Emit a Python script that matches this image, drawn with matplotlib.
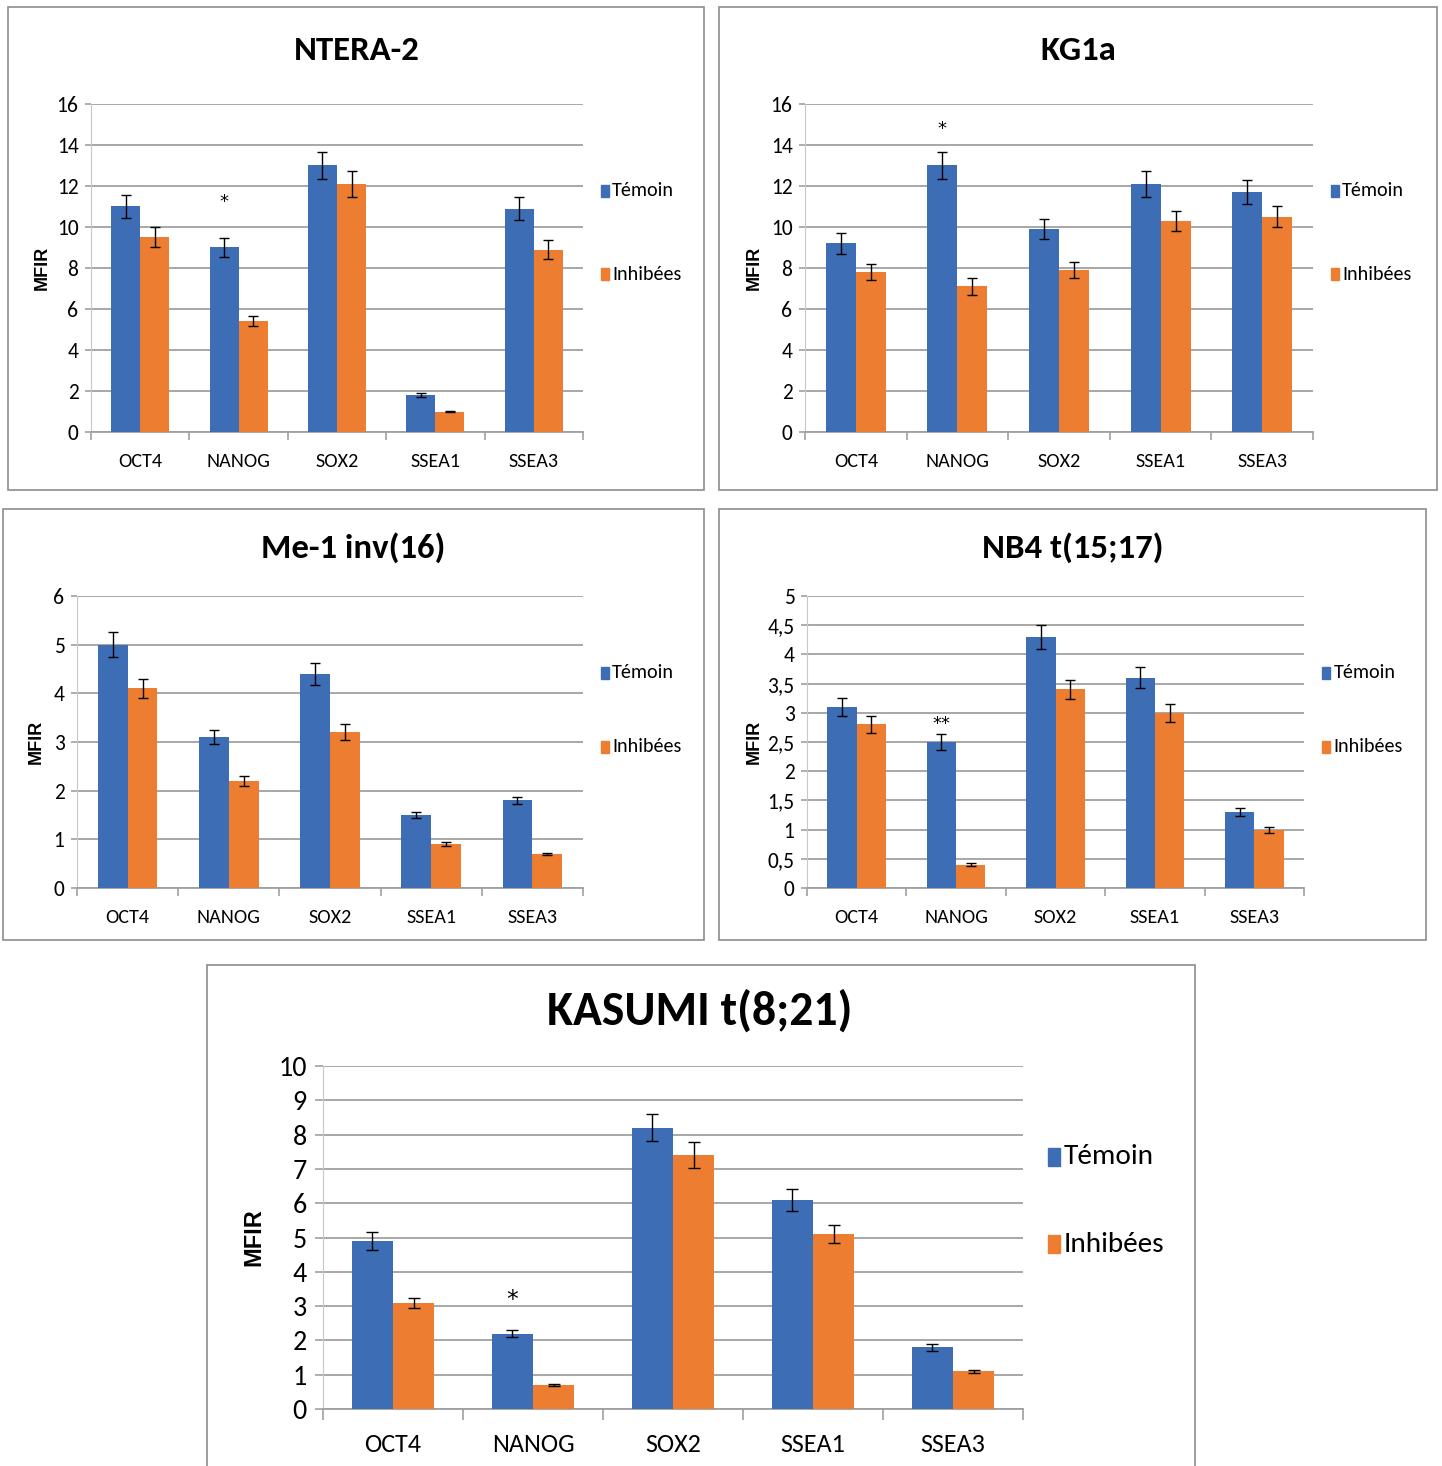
import matplotlib
matplotlib.use("Agg")
import matplotlib.pyplot as plt
from matplotlib.patches import Rectangle
import numpy as np

plt.rcParams['font.family'] = ['Carlito', 'Liberation Sans Narrow', 'DejaVu Sans']

genes = ["OCT4", "NANOG", "SOX2", "SSEA1", "SSEA3"]

# NTERA-2
ntera_temoin = [11.0, 9.0, 13.0, 1.8, 10.9]
ntera_temoin_err = [0.55, 0.45, 0.65, 0.1, 0.55]
ntera_inhib = [9.5, 5.4, 12.1, 1.0, 8.9]
ntera_inhib_err = [0.5, 0.25, 0.65, 0.03, 0.45]

# KG1a
kg1a_temoin = [9.2, 13.0, 9.9, 12.1, 11.7]
kg1a_temoin_err = [0.5, 0.65, 0.5, 0.65, 0.6]
kg1a_inhib = [7.8, 7.1, 7.9, 10.3, 10.5]
kg1a_inhib_err = [0.4, 0.4, 0.4, 0.5, 0.5]

# Me-1 inv(16)
me1_temoin = [5.0, 3.1, 4.4, 1.5, 1.8]
me1_temoin_err = [0.25, 0.15, 0.23, 0.07, 0.08]
me1_inhib = [4.1, 2.2, 3.2, 0.9, 0.7]
me1_inhib_err = [0.2, 0.11, 0.16, 0.04, 0.02]

# NB4 t(15;17)
nb4_temoin = [3.1, 2.5, 4.3, 3.6, 1.3]
nb4_temoin_err = [0.16, 0.13, 0.2, 0.18, 0.07]
nb4_inhib = [2.8, 0.4, 3.4, 3.0, 1.0]
nb4_inhib_err = [0.14, 0.02, 0.17, 0.15, 0.05]

# KASUMI t(8;21)
kas_temoin = [4.9, 2.2, 8.2, 6.1, 1.8]
kas_temoin_err = [0.25, 0.11, 0.4, 0.32, 0.1]
kas_inhib = [3.1, 0.7, 7.4, 5.1, 1.1]
kas_inhib_err = [0.15, 0.04, 0.38, 0.26, 0.05]

BLUE = "#3D6DB5"
ORANGE = "#ED7D31"
GRID = "#A0A0A0"

W, H = 1442, 1466
fig = plt.figure(figsize=(W / 100, H / 100), dpi=100)


def fx(x):
    return x / W


def fy(y):
    return 1 - y / H


def panel(box, axpx, title, title_xy, temoin, terr, inhib, ierr, ymax, ystep,
          ylab_x, leg, star=None, comma=False, s=1.0, ls=1.0, ts=1.0):
    x0, y0, x1, y1 = box
    fig.patches.append(Rectangle((fx(x0), fy(y1)), fx(x1 - x0), (y1 - y0) / H,
                                 transform=fig.transFigure, fill=False,
                                 edgecolor="#8C8C8C", lw=1.2))
    l, t, r, b = axpx
    ax = fig.add_axes([fx(l), fy(b), fx(r - l), (b - t) / H])
    x = np.arange(len(genes))
    w = 0.295
    ax.bar(x - w / 2, temoin, w, color=BLUE, zorder=3)
    ax.bar(x + w / 2, inhib, w, color=ORANGE, zorder=3)
    ax.errorbar(x - w / 2, temoin, yerr=terr, fmt="none", ecolor="black",
                elinewidth=1, capsize=3.5 * s, capthick=1, zorder=4)
    ax.errorbar(x + w / 2, inhib, yerr=ierr, fmt="none", ecolor="black",
                elinewidth=1, capsize=3.5 * s, capthick=1, zorder=4)
    ax.set_xlim(-0.5, len(genes) - 0.5)
    ax.set_ylim(0, ymax)
    yt = np.arange(0, ymax + ystep / 2, ystep)
    ax.set_yticks(yt)
    if comma:
        ax.set_yticklabels([("%g" % v).replace(".", ",") for v in yt])
    else:
        ax.set_yticklabels(["%g" % v for v in yt])
    ax.yaxis.grid(True, color=GRID, lw=1.3, zorder=0)
    ax.set_xticks(np.arange(-0.5, len(genes), 1.0))
    ax.set_xticklabels([])
    ax.set_xticks(x, minor=True)
    ax.set_xticklabels(genes, minor=True)
    ax.tick_params(axis="x", which="major", length=6 * s, color=GRID, width=1.2)
    ax.tick_params(axis="x", which="minor", length=0, pad=15 * s ** 0.6,
                   labelsize=14.5 * s)
    ax.tick_params(axis="y", length=4.5 * s, color=GRID, width=1.2,
                   labelsize=15.5 * s, pad=4.5 * s)
    for sp in ["top", "right"]:
        ax.spines[sp].set_visible(False)
    ax.spines["left"].set_color("#C8C8C8")
    ax.spines["bottom"].set_color(GRID)
    ax.spines["bottom"].set_linewidth(1.3)
    ax.set_facecolor("none")
    if star is not None:
        txt, yv = star
        ax.text(1 - w / 2, yv, txt, ha="center", va="center",
                fontsize=13 * s, family="DejaVu Sans")
    fig.text(fx(title_xy[0]), fy(title_xy[1]), title, ha="center", va="center",
             fontsize=25 * ts, fontweight="bold")
    fig.text(fx(ylab_x), fy((t + b) / 2), "MFIR", rotation=90, ha="center",
             va="center", fontsize=13 * s, fontweight="bold",
             family="Liberation Sans")
    lx, ly1, ly2 = leg
    sw, sh = 8.5 * ls, 12 * ls
    for yy, lab, c in [(ly1, "Témoin", BLUE), (ly2, "Inhibées", ORANGE)]:
        fig.patches.append(Rectangle((fx(lx - sw / 2), fy(yy + sh / 2)),
                                     fx(sw), sh / H, transform=fig.transFigure,
                                     color=c))
        fig.text(fx(lx + sw / 2 + 3), fy(yy), lab, ha="left", va="center",
                 fontsize=14.5 * ls)
    return ax


panel((8, 7, 704, 490), (91, 104, 583, 432), "NTERA-2", (357, 50),
      ntera_temoin, ntera_temoin_err, ntera_inhib, ntera_inhib_err, 16, 2,
      42, (605, 191, 274), star=("*", 11.2))
panel((719, 7, 1437, 490), (805, 104, 1313, 432), "KG1a", (1078, 50),
      kg1a_temoin, kg1a_temoin_err, kg1a_inhib, kg1a_inhib_err, 16, 2,
      754, (1335, 191, 274), star=("*", 14.8))
panel((3, 509, 704, 940), (77, 596, 583, 888), "Me-1 inv(16)", (353, 548),
      me1_temoin, me1_temoin_err, me1_inhib, me1_inhib_err, 6, 1,
      36, (605, 673, 747))
panel((719, 509, 1426, 940), (807, 596, 1304, 888), "NB4 t(15;17)", (1073, 548),
      nb4_temoin, nb4_temoin_err, nb4_inhib, nb4_inhib_err, 5, 0.5,
      754, (1326, 673, 747), star=("**", 2.8), comma=True)
panel((207, 965, 1195, 1470), (323, 1066, 1023, 1409), "KASUMI t(8;21)", (700, 1011),
      kas_temoin, kas_temoin_err, kas_inhib, kas_inhib_err, 10, 1,
      254, (1054, 1157, 1244), star=("*", 3.2), s=1.3, ls=1.45, ts=1.37)

fig.savefig("out.png", dpi=100)
